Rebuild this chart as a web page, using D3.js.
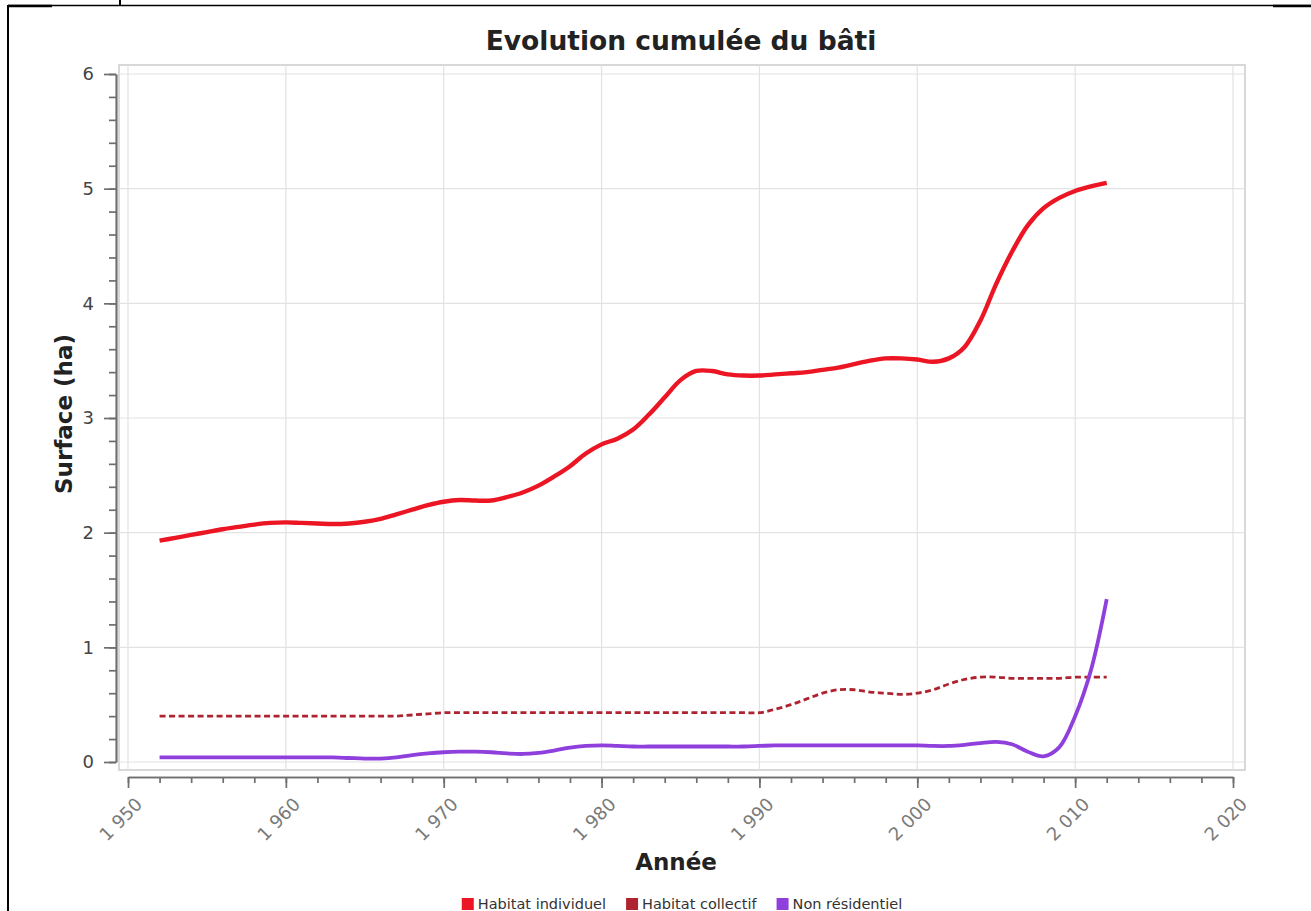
<!DOCTYPE html>
<html><head><meta charset="utf-8">
<script src="https://cdn.jsdelivr.net/npm/d3@7"></script>
<style>
html,body{margin:0;padding:0;background:#fff;}
svg{display:block;}
</style></head>
<body>
<svg id="chart" width="1311" height="911"></svg>
<script>
// ---- Data ----
const years = d3.range(1952, 2013); // 1952 .. 2012
const habitatIndividuel = [
 1.93,1.955,1.98,2.005,2.03,2.05,2.07,2.085,2.09,2.085,
 2.08,2.075,2.08,2.095,2.12,2.16,2.20,2.24,2.27,2.285,
 2.28,2.28,2.31,2.35,2.41,2.49,2.58,2.69,2.77,2.82,
 2.90,3.03,3.18,3.33,3.41,3.41,3.38,3.37,3.37,3.38,
 3.39,3.40,3.42,3.44,3.47,3.50,3.52,3.52,3.51,3.49,
 3.52,3.62,3.85,4.17,4.45,4.68,4.83,4.92,4.98,5.02,
 5.05];
const habitatCollectif = [
 0.40,0.40,0.40,0.40,0.40,0.40,0.40,0.40,0.40,0.40,
 0.40,0.40,0.40,0.40,0.40,0.40,0.41,0.42,0.43,0.43,
 0.43,0.43,0.43,0.43,0.43,0.43,0.43,0.43,0.43,0.43,
 0.43,0.43,0.43,0.43,0.43,0.43,0.43,0.43,0.43,0.46,
 0.50,0.55,0.60,0.63,0.63,0.61,0.60,0.59,0.60,0.63,
 0.68,0.72,0.74,0.74,0.73,0.73,0.73,0.73,0.74,0.74,
 0.74];
const nonResidentiel = [
 0.04,0.04,0.04,0.04,0.04,0.04,0.04,0.04,0.04,0.04,
 0.04,0.04,0.035,0.03,0.03,0.04,0.06,0.075,0.085,0.09,
 0.09,0.085,0.075,0.07,0.08,0.10,0.125,0.14,0.145,0.14,
 0.135,0.135,0.135,0.135,0.135,0.135,0.135,0.135,0.14,0.145,
 0.145,0.145,0.145,0.145,0.145,0.145,0.145,0.145,0.145,0.14,
 0.14,0.15,0.165,0.175,0.155,0.09,0.05,0.13,0.40,0.80,
 1.42];
const seriesNames = ["Habitat individuel","Habitat collectif","Non résidentiel"];
const seriesColors = ["#ec1524","#ad2430","#8e3fdc"];
const xTickValues = [1950,1960,1970,1980,1990,2000,2010,2020];
const xTickLabels = ["1 950","1 960","1 970","1 980","1 990","2 000","2 010","2 020"];
const yTickValues = [0,1,2,3,4,5,6];
const titleText = "Evolution cumulée du bâti";
const xTitle = "Année";
const yTitle = "Surface (ha)";

// ---- Drawing ----
const svg = d3.select("#chart");
const font = "'DejaVu Sans', sans-serif";

// page borders (document table edges)
svg.append("line").attr("x1",8).attr("x2",8).attr("y1",5).attr("y2",911).attr("stroke","#000").attr("stroke-width",2);
svg.append("line").attr("x1",8).attr("x2",1311).attr("y1",5.5).attr("y2",5.5).attr("stroke","#000").attr("stroke-width",1.3);
svg.append("line").attr("x1",8).attr("x2",52).attr("y1",6).attr("y2",6).attr("stroke","#000").attr("stroke-width",2.4);
svg.append("line").attr("x1",1273).attr("x2",1311).attr("y1",6).attr("y2",6).attr("stroke","#000").attr("stroke-width",2.4);
svg.append("line").attr("x1",120).attr("x2",120).attr("y1",0).attr("y2",5).attr("stroke","#000").attr("stroke-width",2);

const x = d3.scaleLinear().domain([1950, 2020]).range([128, 1233]);
const y = d3.scaleLinear().domain([0, 6]).range([762, 74]);

// plot frame
const frame = {x0:119, x1:1245, y0:65, y1:770};
svg.append("rect").attr("x",frame.x0).attr("y",frame.y0)
  .attr("width",frame.x1-frame.x0).attr("height",frame.y1-frame.y0)
  .attr("fill","#fff").attr("stroke","#cfcfcf").attr("stroke-width",1.6);

// gridlines
svg.append("g").selectAll("line").data(xTickValues).join("line")
  .attr("x1",d=>x(d)).attr("x2",d=>x(d)).attr("y1",frame.y0).attr("y2",frame.y1)
  .attr("stroke","#e2e2e2").attr("stroke-width",1.2);
svg.append("g").selectAll("line").data(yTickValues).join("line")
  .attr("x1",frame.x0).attr("x2",frame.x1).attr("y1",d=>y(d)).attr("y2",d=>y(d))
  .attr("stroke","#e2e2e2").attr("stroke-width",1.2);

// Y axis
const axisColor = "#6e6e6e";
const yAxisX = 116;
const yMinor = d3.range(0, 6.0001, 0.2).map(v=>+v.toFixed(1));
const gyMinor = svg.append("g").attr("transform",`translate(${yAxisX},0)`)
  .call(d3.axisLeft(y).tickValues(yMinor).tickSize(7).tickSizeOuter(0).tickFormat(""));
const gyMajor = svg.append("g").attr("transform",`translate(${yAxisX},0)`)
  .call(d3.axisLeft(y).tickValues(yTickValues).tickSize(12).tickSizeOuter(0).tickFormat(""));
[gyMinor, gyMajor].forEach(g=>{
  g.selectAll("path,line").attr("stroke",axisColor).attr("stroke-width",1.7);
});
svg.append("g").selectAll("text").data(yTickValues).join("text")
  .attr("x",94).attr("y",d=>y(d)).attr("dy","0.35em")
  .attr("text-anchor","end").attr("font-family",font).attr("font-size",18)
  .attr("fill","#444").text(d=>d);

// X axis
const xAxisY = 777;
const xMinor = d3.range(1950, 2021, 2);
const gxMinor = svg.append("g").attr("transform",`translate(0,${xAxisY})`)
  .call(d3.axisBottom(x).tickValues(xMinor).tickSize(6).tickSizeOuter(0).tickFormat(""));
const gxMajor = svg.append("g").attr("transform",`translate(0,${xAxisY})`)
  .call(d3.axisBottom(x).tickValues(xTickValues).tickSize(11).tickSizeOuter(0).tickFormat(""));
[gxMinor, gxMajor].forEach(g=>{
  g.selectAll("path,line").attr("stroke",axisColor).attr("stroke-width",1.7);
});
svg.append("g").selectAll("text").data(xTickValues).join("text")
  .attr("transform",d=>`translate(${x(d)+11},${xAxisY+24}) rotate(-45)`)
  .attr("text-anchor","end").attr("dy","0.35em")
  .attr("font-family",font).attr("font-size",18).attr("fill","#7a7a7a")
  .text((d,i)=>xTickLabels[i]);

// Lines
const line = d3.line().x(d=>x(d[0])).y(d=>y(d[1])).curve(d3.curveCatmullRom.alpha(0.5));
svg.append("path").datum(years.map((yr,i)=>[yr,habitatCollectif[i]]))
  .attr("d",line).attr("fill","none").attr("stroke",seriesColors[1])
  .attr("stroke-width",2.8).attr("stroke-dasharray","6,3.5");
svg.append("path").datum(years.map((yr,i)=>[yr,nonResidentiel[i]]))
  .attr("d",line).attr("fill","none").attr("stroke",seriesColors[2])
  .attr("stroke-width",3.8).attr("stroke-linejoin","round");
svg.append("path").datum(years.map((yr,i)=>[yr,habitatIndividuel[i]]))
  .attr("d",line).attr("fill","none").attr("stroke",seriesColors[0])
  .attr("stroke-width",4.4).attr("stroke-linejoin","round");

// Titles
svg.append("text").attr("x",681).attr("y",50).attr("text-anchor","middle")
  .attr("font-family",font).attr("font-weight","bold").attr("font-size",26.5)
  .attr("fill","#222").text(titleText);
svg.append("text").attr("x",676).attr("y",870).attr("text-anchor","middle")
  .attr("font-family",font).attr("font-weight","bold").attr("font-size",23)
  .attr("fill","#222").text(xTitle);
svg.append("text").attr("transform","translate(72,414) rotate(-90)").attr("text-anchor","middle")
  .attr("font-family",font).attr("font-weight","bold").attr("font-size",23)
  .attr("fill","#222").text(yTitle);

// Legend
const lg = svg.append("g");
const legendFont = 14.5;
const items = seriesNames.map((n,i)=>({name:n,color:seriesColors[i]}));
const widths = items.map(it=>{
  const t = lg.append("text").attr("font-family",font).attr("font-size",legendFont).text(it.name);
  const w = t.node().getComputedTextLength(); t.remove(); return w;
});
const sq = 12, gapSq = 4, gapItem = 20;
const total = d3.sum(widths) + items.length*(sq+gapSq) + gapItem*(items.length-1);
let cx = 682 - total/2;
items.forEach((it,i)=>{
  lg.append("rect").attr("x",cx).attr("y",898).attr("width",sq).attr("height",sq).attr("fill",it.color);
  lg.append("text").attr("x",cx+sq+gapSq).attr("y",909).attr("font-family",font)
    .attr("font-size",legendFont).attr("fill","#333").text(it.name);
  cx += sq+gapSq+widths[i]+gapItem;
});
</script>
</body></html>
